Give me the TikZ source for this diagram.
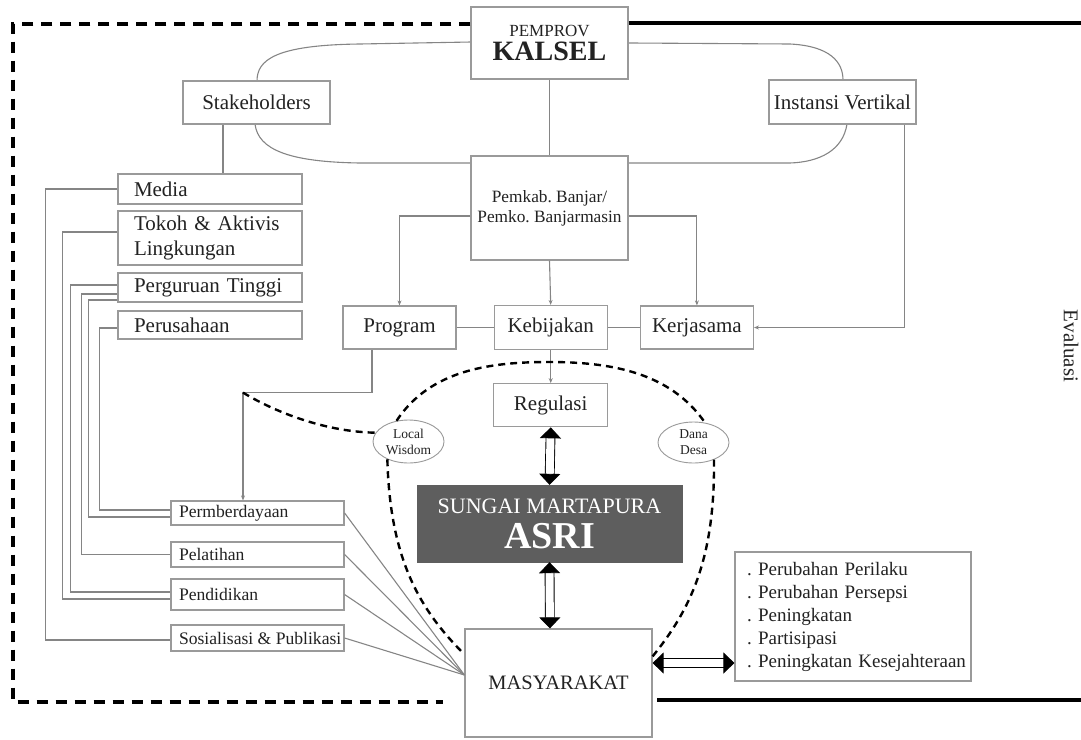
\documentclass[tikz,border=0pt]{standalone}
\usepackage{fontspec}
\setmainfont{Liberation Serif}
\usetikzlibrary{positioning,arrows.meta,shapes.geometric}

\definecolor{boxgray}{HTML}{9A9A9A}
\definecolor{linegray}{HTML}{858585}
\definecolor{ink}{HTML}{222222}
\definecolor{asri}{HTML}{5E5E5E}

\begin{document}
\frenchspacing
\begin{tikzpicture}[
        x=1pt, y=-1pt,
        box/.style={rectangle, draw=boxgray, line width=1.2pt, fill=white, text=ink, inner sep=0pt, font=\fontsize{21}{25}\selectfont},
        boxsize/.style 2 args={minimum width=#1pt, minimum height=#2pt},
        stake box/.style={box, align=left, inner xsep=16pt, text width=152pt},
        action box/.style={box, inner xsep=8pt, font=\fontsize{17.6}{21}\selectfont},
        bubble/.style={ellipse, draw=boxgray, line width=0.9pt, fill=white, text=ink, inner sep=0pt, align=center, font=\fontsize{13.5}{16}\selectfont},
        link/.style={draw=linegray, line width=1.1pt},
        link arrow/.style={link, -{Stealth[length=5pt, width=4pt]}},
        flow/.style={draw=black, line width=0.9pt, double=white, double distance=8pt, arrows={Triangle[length=11pt, width=21pt]-Triangle[length=11pt, width=21pt]}},
        frame dash/.style={line width=4pt, dash pattern=on 11pt off 8pt},
        frame solid/.style={line width=4pt},
        scope line/.style={line width=2.4pt, dash pattern=on 7pt off 5pt}
    ]
        \useasboundingbox (0,0) rectangle (1081,739);

        % Coordination loop behind the top boxes
        \draw[link] (471,42) -- (360,44) .. controls (275,45) and (257,60) .. (257,81) -- (255,124)
            .. controls (258,150) and (290,162) .. (360,163) -- (790,163)
            .. controls (820,162) and (843,150) .. (847,124) -- (843,80)
            .. controls (843,62) and (830,46) .. (790,44) -- cycle;

        % Government
        \node[box, boxsize={157}{72}, align=center, font=\fontsize{17}{24}\selectfont] (pemprov) at (549.5,43)
            {PEMPROV\\{\fontsize{28}{24}\selectfont\bfseries KALSEL}};
        \node[box, boxsize={157}{104}, align=center, font=\fontsize{17.3}{20}\selectfont] (pemkab) at (549.5,208)
            {Pemkab. Banjar/\\Pemko. Banjarmasin};
        \node[box, boxsize={147}{43}] (stake) at (256.5,102.5) {Stakeholders};
        \node[box, boxsize={147}{44}] (inst) at (842.5,102) {Instansi Vertikal};

        % Instruments
        \node[box, boxsize={113}{43}] (prog) at (399.5,327.5) {Program};
        \node[box, boxsize={113}{44}, right=37pt of prog] (kebij) {Kebijakan};
        \node[box, boxsize={113}{43}, right=32pt of kebij] (kerja) {Kerjasama};
        \node[box, boxsize={114}{43}, below=33pt of kebij] (regul) {Regulasi};

        % Stakeholder groups
        \foreach \name/\label/\y/\h in {media/Media/189/30, tokoh/{Tokoh \& Aktivis\\Lingkungan}/238/54,
                perg/Perguruan Tinggi/287.5/29, perus/Perusahaan/325/28}
        {
            \node[stake box, boxsize={184}{\h}] (\name) at (210,\y) {\label};
        }

        % Activities
        \foreach \name/\label/\y/\h in {perm/Permberdayaan/513/24, pelat/Pelatihan/554.5/25,
                pendi/Pendidikan/594.5/31, sosial/Sosialisasi \& Publikasi/638/26}
        {
            \node[action box, boxsize={173}{\h}] (\name) at (257.5,\y) {\makebox[157pt][l]{\label}};
        }

        % Centre and community
        \node[rectangle, fill=asri, draw=asri, text=white, inner sep=0pt, boxsize={265}{77}, align=center,
            font=\fontsize{22}{35}\selectfont] (sungai) at (549.5,523.5)
            {SUNGAI MARTAPURA\\{\fontsize{38}{35}\selectfont\bfseries ASRI}};
        \node[box, boxsize={187}{108}, font=\fontsize{20.5}{24}\selectfont] (masy) at (558.5,683) {MASYARAKAT};
        \node[box, boxsize={236}{129}, align=left, text width=236pt, execute at begin node={\hspace*{12pt}},
            font=\fontsize{19}{23}\selectfont] (hasil) at (853,616.5)
            {. Perubahan Perilaku\\\hspace*{12pt}. Perubahan Persepsi\\\hspace*{12pt}. Peningkatan\\\hspace*{12pt}. Partisipasi\\\hspace*{12pt}. Peningkatan Kesejahteraan};

        \node[bubble, boxsize={71}{43}] (lw) at (408.5,441.5) {Local\\Wisdom};
        \node[bubble, boxsize={71}{41}] (dd) at (693.5,442.5) {Dana\\Desa};

        \node[text=ink, rotate=-90, font=\fontsize{21}{25}\selectfont] (eval) at (1071,346) {Evaluasi};

        % Connections between government and instruments
        \draw[link] (pemprov.south) -- (pemkab.north);
        \draw[link arrow] ([yshift=-8pt]pemkab.west) -| (prog.north);
        \draw[link arrow] ([yshift=-8pt]pemkab.east) -| (kerja.north);
        \draw[link arrow] (pemkab.south) -- (kebij.north);
        \draw[link] (prog.east) -- (kebij.west);
        \draw[link] (kebij.east) -- (kerja.west);
        \draw[link arrow] (kebij.south) -- (regul.north);
        \draw[link arrow] ([xshift=62pt]inst.south) |- (kerja.east);
        \draw[link] ([xshift=-33.5pt]stake.south) -- ([xshift=-33.5pt]stake.south |- media.north);
        \draw[link arrow] ([xshift=-27.5pt]prog.south) -- ++(0,43) coordinate (bend) -| ([xshift=-14.5pt]perm.north);
        \coordinate (pcorner) at ([xshift=-14.5pt]perm.north |- bend);

        % Groups to activities
        \foreach \src/\sy/\dx/\dst/\dy in {media/0/72/sosial/-2, tokoh/6/55/pendi/-4.5, perg/2.5/47/pendi/2.5,
                perg/-6.5/36/pelat/0, perg/-12.5/29/perm/-4, perus/-3/18/perm/3}
        {
            \draw[link] ([yshift=\sy pt]\src.west) -- ++(-\dx,0) |- ([yshift=\dy pt]\dst.west);
        }

        % Activities to community
        \coordinate (fan) at ([yshift=8pt]masy.west);
        \foreach \b in {perm, pelat, pendi, sosial}
        {
            \draw[link] (\b.east) -- (fan);
        }

        % Two-way flows
        \draw[flow] (regul.south) -- (sungai.north);
        \draw[flow] (sungai.south) -- ([xshift=0.4pt]sungai.south |- masy.north);
        \draw[flow] ([yshift=20pt]masy.east) -- ([yshift=20pt]masy.east -| hasil.west);

        % Scope of the programme
        \draw[scope line] (pcorner) .. controls (280,415) and (330,432) .. (lw.165);
        \draw[scope line] (lw.120) .. controls (430,370) and (490,362) .. (549,362)
            .. controls (610,362) and (670,372) .. (dd.60);
        \draw[scope line] (lw.220) .. controls (390,560) and (420,610) .. ([yshift=-26pt]masy.north west);
        \draw[scope line] (dd.320) .. controls (715,560) and (690,610) .. ([yshift=-28pt]masy.north east);

        % Evaluation frame
        \draw[frame dash] (pemprov.west |- 0,24) -- (13,24) -- (13,702) -- (443,702);
        \draw[frame solid] (pemprov.east |- 0,23) -- (1081,23);
        \draw[frame solid] (657,700) -- (1081,700);

    \end{tikzpicture}
\end{document}
